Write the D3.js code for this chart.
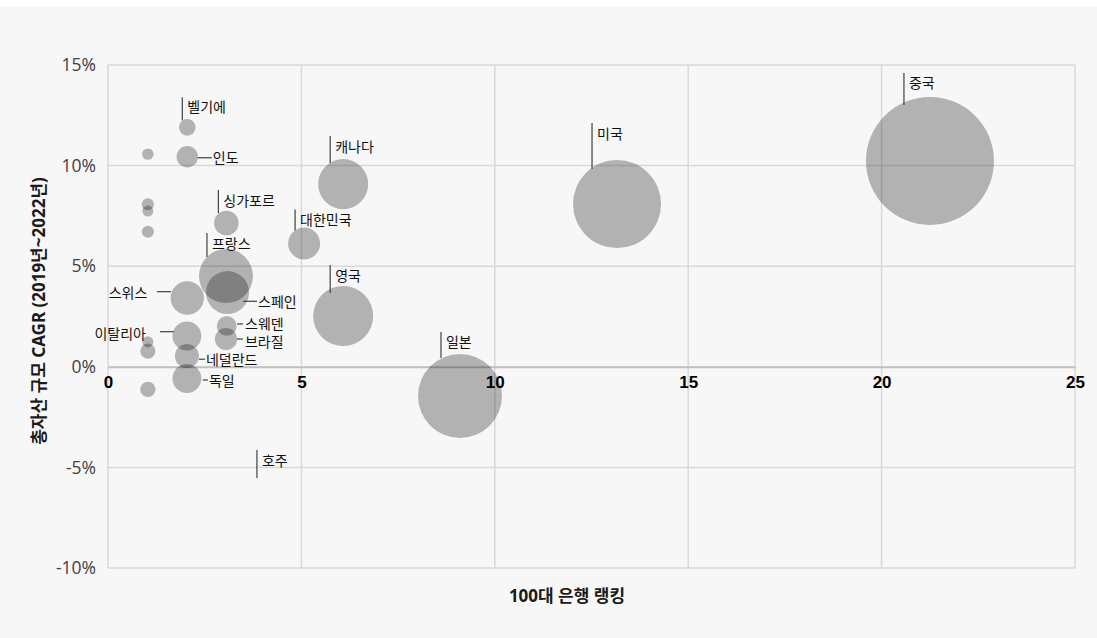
<!DOCTYPE html>
<html>
<head>
<meta charset="utf-8">
<script src="https://cdn.jsdelivr.net/npm/d3@7"></script>
<style>
	body { margin: 0; background: #fff; }
	svg { display: block; font-family: "Noto Sans", "Noto Sans CJK KR", sans-serif; }
</style>
</head>
<body>
<div id="bubble-chart"></div>
<script>
// chart values
const countries = ["중국", "미국", "일본", "영국", "캐나다", "대한민국", "프랑스", "스페인", "스위스",
	"이탈리아", "독일", "싱가포르", "네덜란드", "브라질", "인도", "스웨덴", "벨기에", "호주",
	"", "", "", "", "", "", ""];
const bankRank = [21.25, 13.16, 9.1, 6.08, 6.08, 5.07, 3.05, 3.09, 2.05,
	2.04, 2.04, 3.06, 2.04, 3.05, 2.05, 3.07, 2.05, 3.85,
	1.03, 1.03, 1.03, 1.03, 1.03, 1.03, 1.03];
const assetCagr = [10.23, 8.09, -1.45, 2.52, 9.08, 6.13, 4.51, 3.69, 3.42,
	1.53, -0.58, 7.15, 0.54, 1.38, 10.44, 2.03, 11.9, -5.53,
	10.57, 8.08, 7.74, 6.71, 1.24, 0.78, -1.12];
const bubbleSize = [100, 47.3, 43.1, 22.0, 15.3, 6.25, 17.8, 11.3, 6.8,
	5.1, 5.1, 3.7, 3.5, 3.0, 2.8, 2.4, 1.7, 0,
	0.8, 0.9, 0.75, 0.9, 0.75, 1.4, 1.45];

const xTicks = [0, 5, 10, 15, 20, 25];
const yTicks = [-10, -5, 0, 5, 10, 15];

// label leader lines, offsets from the bubble centre in px: [x1, y1, x2, y2, textX, textY, anchor]
const labelLayout = {
	"벨기에": [-5, -30, -5, -7, 0, -15, "start"],
	"중국": [-26, -88, -26, -56, -21, -73, "start"],
	"미국": [-25, -81, -25, -35, -20, -65, "start"],
	"캐나다": [-13, -48, -13, -21, -8, -32, "start"],
	"대한민국": [-9, -34, -9, -13, -4, -18, "start"],
	"영국": [-13, -51, -13, -23, -8, -35, "start"],
	"일본": [-19, -64, -19, -38, -14, -49, "start"],
	"싱가포르": [-8, -33, -8, -10, -3, -17, "start"],
	"프랑스": [-19, -43, -19, -19, -14, -27, "start"],
	"호주": [0, -28, 0, 0, 5, -12, "start"],
	"인도": [10.5, 1, 24.5, 1, 25.5, 6.5, "start"],
	"스페인": [15.5, 8.7, 29.5, 8.7, 30.5, 14.5, "start"],
	"스웨덴": [10.3, -2, 16.3, -2, 18.3, 3.5, "start"],
	"브라질": [11, 0, 17, 0, 19, 7.5, "start"],
	"네덜란드": [12, 3.3, 18, 3.3, 19, 9.5, "start"],
	"독일": [16, 1.5, 21, 1.5, 22, 7.5, "start"],
	"스위스": [-30.3, -6.3, -16.3, -6.3, -40, 0, "end"],
	"이탈리아": [-27, -4.3, -13, -4.3, -41, 3, "end"],
};

const points = countries.map((name, i) => ({
	name,
	rank: bankRank[i],
	cagr: assetCagr[i],
	size: bubbleSize[i],
}));

// define width, height, margins, and svg container
const width = 1097;
const height = 638;

const margin = { top: 65, bottom: 70, left: 108, right: 22 };

const svg = d3
	.select("#bubble-chart")
	.append("svg")
	.attr("width", width)
	.attr("height", height);

svg
	.append("rect")
	.attr("x", 0)
	.attr("y", 6)
	.attr("width", width)
	.attr("height", height - 6)
	.attr("fill", "#f7f7f7");

// scales
const xScale = d3
	.scaleLinear()
	.domain([0, 25])
	.range([margin.left, width - margin.right]);

const yScale = d3
	.scaleLinear()
	.domain([-10, 15])
	.range([height - margin.bottom, margin.top]);

const rScale = d3.scaleSqrt().domain([0, 100]).range([0, 64]);

// gridlines
svg
	.append("g")
	.selectAll("line")
	.data(yTicks.filter((d) => d !== 0))
	.enter()
	.append("line")
	.attr("x1", xScale(0))
	.attr("x2", xScale(25))
	.attr("y1", (d) => yScale(d))
	.attr("y2", (d) => yScale(d))
	.attr("stroke", "#d9d9d9")
	.attr("stroke-width", 1.5);

svg
	.append("g")
	.selectAll("line")
	.data(xTicks)
	.enter()
	.append("line")
	.attr("x1", (d) => xScale(d))
	.attr("x2", (d) => xScale(d))
	.attr("y1", yScale(15))
	.attr("y2", yScale(-10))
	.attr("stroke", "#d9d9d9")
	.attr("stroke-width", 1.5);

// x axis sits on the 0% line
const xAxis = svg
	.append("g")
	.attr("transform", `translate(0, ${yScale(0)})`)
	.call(d3.axisBottom(xScale).tickValues(xTicks).tickSize(0).tickPadding(9).tickFormat(d3.format("d")));

xAxis.select(".domain").attr("stroke", "#bfbfbf").attr("stroke-width", 2);
xAxis
	.selectAll("text")
	.style("font-size", "17px")
	.style("font-weight", "bold")
	.attr("fill", "#000");

const yAxis = svg
	.append("g")
	.attr("transform", `translate(${margin.left}, 0)`)
	.call(d3.axisLeft(yScale).tickValues(yTicks).tickSize(0).tickPadding(12).tickFormat((d) => d + "%"));

yAxis.select(".domain").remove();
yAxis
	.selectAll("text")
	.style("font-family", "'Open Sans', 'Noto Sans', sans-serif")
	.style("font-size", "17.5px")
	.attr("fill", "#404040");

// bubbles
svg
	.append("g")
	.selectAll("circle")
	.data(points.filter((d) => d.size > 0))
	.enter()
	.append("circle")
	.attr("cx", (d) => xScale(d.rank))
	.attr("cy", (d) => yScale(d.cagr))
	.attr("r", (d) => rScale(d.size))
	.attr("fill", "#000")
	.attr("fill-opacity", 0.28);

// labels with leader lines
const labelled = points.filter((d) => labelLayout[d.name]);

const labels = svg.append("g");

labelled.forEach((d) => {
	const [x1, y1, x2, y2, tx, ty, anchor] = labelLayout[d.name];
	const cx = xScale(d.rank);
	const cy = yScale(d.cagr);

	labels
		.append("line")
		.attr("x1", cx + x1)
		.attr("y1", cy + y1)
		.attr("x2", cx + x2)
		.attr("y2", cy + y2)
		.attr("stroke", "#404040")
		.attr("stroke-width", 1.2);

	labels
		.append("text")
		.attr("x", cx + tx)
		.attr("y", cy + ty)
		.attr("text-anchor", anchor)
		.style("font-size", "14px")
		.attr("fill", "#111")
		.text(d.name);
});

// axis titles
svg
	.append("text")
	.attr("x", 567)
	.attr("y", 602)
	.style("text-anchor", "middle")
	.style("font-size", "17px")
	.style("font-weight", "bold")
	.attr("fill", "#1a1a1a")
	.text("100대 은행 랭킹");

svg
	.append("text")
	.attr("transform", "rotate(-90)")
	.attr("x", -311)
	.attr("y", 45)
	.style("text-anchor", "middle")
	.style("font-size", "17px")
	.style("font-weight", "bold")
	.attr("fill", "#1a1a1a")
	.text("총자산 규모 CAGR (2019년~2022년)");
</script>
</body>
</html>
